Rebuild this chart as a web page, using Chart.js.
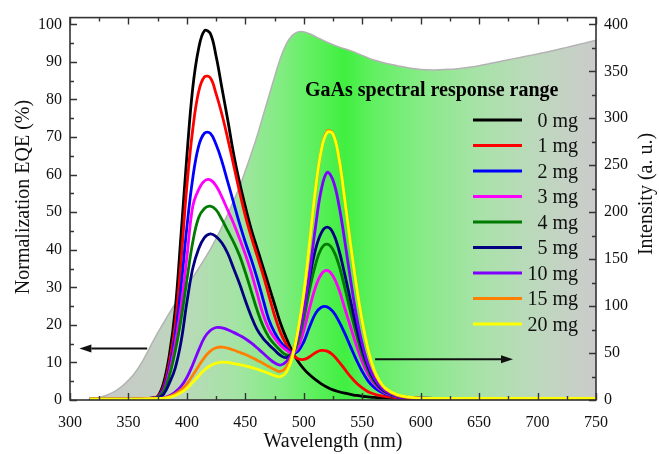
<!DOCTYPE html>
<html>
<head>
<meta charset="utf-8">
<title>Normalization EQE vs wavelength</title>
<script src="https://cdn.jsdelivr.net/npm/chart.js@4.4.0/dist/chart.umd.min.js"></script>
<style>
    html, body { margin: 0; padding: 0; background: #fff; }
    #wrap { position: relative; width: 659px; height: 454px; }
</style>
</head>
<body>
<div id="wrap"><canvas id="eqeCanvas"></canvas></div>
<script>
// Wavelength grid for the EQE curves (nm)
const wavelength = [317, 340, 360, 370, 375, 380, 385, 390, 395, 400, 405, 410, 415, 420, 425, 430, 435, 440, 445, 450,
    455, 460, 465, 470, 475, 480, 485, 490, 495, 500, 505, 510, 515, 520, 525, 530, 535, 540, 545, 550,
    555, 560, 565, 570, 580, 590, 600, 650, 700, 750];

// Normalization EQE (%) per sample
const eqe0mg = [0.3, 0.3, 0.3, 0.5, 1.0, 4.5, 12, 24, 44, 65, 83, 93.5, 98.3, 97.6, 91.5, 83, 74.5, 65.5, 58, 51.5,
    45.5, 40.5, 35.5, 30.5, 25.5, 20.5, 16.5, 13, 10.3, 8.3, 6.7, 5.4, 4.3, 3.4, 2.7, 2.2, 1.8, 1.5, 1.2, 1.0,
    0.85, 0.7, 0.6, 0.55, 0.45, 0.4, 0.35, 0.3, 0.3, 0.3];
const eqe1mg = [0.3, 0.3, 0.3, 0.5, 0.9, 3.5, 10, 20, 37, 57, 72, 82, 86, 85.8, 81.5, 76, 69.5, 62.5, 55.5, 49,
    43.5, 38.5, 33.5, 28, 22.5, 18, 14.8, 12.3, 11, 10.8, 11.5, 12.6, 13.2, 13.0, 12, 10.2, 8.2, 6.2, 4.5, 3.2,
    2.2, 1.6, 1.2, 0.9, 0.6, 0.45, 0.4, 0.3, 0.3, 0.3];
const eqe2mg = [0.3, 0.3, 0.3, 0.5, 0.8, 3, 8.5, 17, 30, 46, 59, 67.5, 71, 71, 68, 63.5, 58, 52.5, 47, 42,
    37.5, 32.5, 27, 21.5, 18, 15.5, 13.8, 12.5, 13, 15.5, 19.5, 23, 24.7, 24.8, 23.5, 21, 17.8, 14.2, 10.7, 7.6,
    5.1, 3.4, 2.3, 1.6, 0.8, 0.55, 0.45, 0.3, 0.3, 0.3];
const eqe3mg = [0.3, 0.3, 0.3, 0.5, 0.7, 2.5, 7.5, 15, 25, 38, 51.5, 56, 58.3, 58.6, 57, 54, 50.5, 47, 43, 38.8,
    34, 28.5, 23, 19, 16.5, 14.6, 13.3, 12.4, 14, 18.5, 24.5, 30, 33.5, 34.5, 33, 29.5, 24.5, 19.5, 14.5, 10.2,
    6.8, 4.4, 2.9, 1.9, 0.9, 0.6, 0.45, 0.3, 0.3, 0.3];
const eqe4mg = [0.3, 0.3, 0.3, 0.45, 0.7, 2.2, 6.5, 13, 21.5, 32, 42, 48.5, 51, 51.6, 50.6, 48, 45, 42, 38.5, 34,
    29, 24, 19.8, 16.8, 14.8, 13.2, 12, 12.2, 15.5, 21.5, 29.5, 36, 40.3, 41.5, 40, 36, 30, 23.5, 17.5, 12,
    8, 5, 3.2, 2.1, 1.0, 0.7, 0.5, 0.3, 0.3, 0.3];
const eqe5mg = [0.3, 0.3, 0.3, 0.4, 0.6, 1.5, 4.5, 8.5, 15.5, 26, 35, 40.2, 43.2, 44.2, 43.5, 41.8, 39, 35, 31, 26.5,
    22.3, 18.8, 16.5, 14.8, 13.3, 11.9, 11.3, 12.5, 17, 24, 32.5, 40, 44.5, 46, 44.5, 40, 33.5, 26.5, 19.5, 13.5,
    8.8, 5.5, 3.4, 2.2, 1.0, 0.7, 0.5, 0.3, 0.3, 0.3];
const eqe10mg = [0.3, 0.3, 0.3, 0.35, 0.45, 0.6, 1.1, 2.1, 3.6, 6, 9.4, 13.2, 16.6, 18.5, 19.3, 19.2, 18.7, 18, 17.2, 16.3,
    15.2, 13.9, 12.5, 11.1, 9.9, 9.3, 10.2, 12.5, 16.5, 23.5, 34, 46, 56, 60.6, 58.5, 52, 42.5, 32, 22.5, 15,
    9.5, 6, 3.8, 2.4, 1.1, 0.7, 0.5, 0.3, 0.3, 0.3];
const eqe15mg = [0.3, 0.3, 0.3, 0.35, 0.4, 0.5, 0.9, 1.6, 2.7, 4.3, 6.6, 9, 11.3, 13, 13.9, 14.1, 13.8, 13.3, 12.7, 12.1,
    11.4, 10.6, 9.8, 8.9, 8.1, 7.6, 8.7, 12, 18.5, 28, 41.5, 55.5, 66.5, 71.6, 71, 64.5, 53.5, 41.5, 30.3, 20.8,
    13.2, 7.8, 4.7, 2.9, 1.2, 0.7, 0.5, 0.4, 0.4, 0.4];
const eqe20mg = [0.3, 0.3, 0.3, 0.35, 0.4, 0.45, 0.7, 1.2, 2, 3.1, 4.7, 6.4, 8, 9.1, 9.8, 10.1, 10, 9.7, 9.4, 9.1,
    8.7, 8.2, 7.7, 7.1, 6.5, 6.2, 7.4, 11.2, 18.5, 28.5, 42, 56, 66.5, 71.2, 70.8, 64.5, 53.5, 41.5, 30.5, 21,
    13.5, 8.2, 5, 3.1, 1.4, 0.8, 0.5, 0.45, 0.45, 0.45];

const seriesLabels = ['0 mg', '1 mg', '2 mg', '3 mg', '4 mg', '5 mg', '10 mg', '15 mg', '20 mg'];
const seriesValues = [eqe0mg, eqe1mg, eqe2mg, eqe3mg, eqe4mg, eqe5mg, eqe10mg, eqe15mg, eqe20mg];
const seriesColors = ['#000000', '#ff0000', '#0000ff', '#ff00ff', '#007a00', '#000080', '#7f00ff', '#ff8000', '#ffff00'];

// GaAs spectral response (right axis, a. u.)
const spectrumWavelength = [315, 320, 325, 330, 335, 340, 345, 350, 355, 360, 365, 370, 375, 380, 385, 390, 395, 400, 405, 410,
    415, 420, 425, 430, 435, 440, 445, 450, 455, 460, 465, 470, 475, 480, 485, 490, 495, 500, 505, 510,
    520, 530, 540, 550, 560, 570, 580, 590, 600, 610, 620, 630, 640, 650, 660, 670, 680, 690, 700, 710,
    720, 730, 740, 750];
const spectrumIntensity = [0, 1, 2.5, 4.5, 7, 10.5, 15, 21, 28, 37, 48, 60, 71.5, 82, 92.5, 102.5, 112, 121, 130.5, 140,
    150, 160.5, 172, 184.5, 198, 212, 227, 244, 262, 281, 302, 323, 344, 364, 379, 388, 392, 392, 390, 387,
    381, 376, 372, 367, 362, 358.5, 356, 353.5, 352, 351.5, 352, 352.5, 354, 356, 358.5, 361, 363.5, 366, 368.5, 371,
    374, 377, 380, 383];

// Axis ticks
const xTickValues = [300, 350, 400, 450, 500, 550, 600, 650, 700, 750];
const yTickValues = [0, 10, 20, 30, 40, 50, 60, 70, 80, 90, 100];
const y1TickValues = [0, 50, 100, 150, 200, 250, 300, 350, 400];

// Gradient of the response band, left grey -> green -> right grey
const fillStops = [
    [315, '#c8c8c8'], [370, '#c3cfc3'], [400, '#b8dab8'], [440, '#a6e3a6'], [480, '#82ec82'],
    [510, '#5cf05c'], [535, '#40ef40'], [560, '#62f062'], [600, '#86eb86'], [650, '#a8e2a8'],
    [700, '#bdd8bd'], [750, '#cbcbcb']
];

const SERIF = '"Liberation Serif", "Times New Roman", serif';
Chart.defaults.font.family = SERIF;
Chart.defaults.color = '#111';

function spectrumGradient(context) {
    const chart = context.chart;
    const { ctx, chartArea, scales } = chart;
    if (!chartArea) return '#9e9';
    const first = fillStops[0][0];
    const last = fillStops[fillStops.length - 1][0];
    const x0 = scales.x.getPixelForValue(first);
    const x1 = scales.x.getPixelForValue(last);
    const g = ctx.createLinearGradient(x0, 0, x1, 0);
    fillStops.forEach(([nm, color]) => {
        g.addColorStop((nm - first) / (last - first), color);
    });
    return g;
}

// Frame, inward ticks, arrows, legend and labels
const decorPlugin = {
    id: 'decor',
    afterDatasetsDraw(chart) {
        const { ctx, chartArea: a, scales } = chart;
        const x = scales.x, y = scales.y, y1 = scales.y1;

        ctx.save();
        ctx.strokeStyle = '#333';
        ctx.lineWidth = 1.6;
        ctx.strokeRect(a.left, a.top, a.right - a.left, a.bottom - a.top);

        ctx.lineWidth = 1.4;
        ctx.beginPath();
        for (let v = 300; v <= 750; v += 25) {
            const px = Math.round(x.getPixelForValue(v)) + 0.5;
            const len = v % 50 === 0 ? 7 : 4;
            ctx.moveTo(px, a.bottom); ctx.lineTo(px, a.bottom - len);
            ctx.moveTo(px, a.top); ctx.lineTo(px, a.top + len);
        }
        for (let v = 0; v <= 100; v += 5) {
            const py = Math.round(y.getPixelForValue(v)) + 0.5;
            const len = v % 10 === 0 ? 7 : 4;
            ctx.moveTo(a.left, py); ctx.lineTo(a.left + len, py);
        }
        for (let v = 0; v <= 400; v += 25) {
            const py = Math.round(y1.getPixelForValue(v)) + 0.5;
            const len = v % 50 === 0 ? 7 : 4;
            ctx.moveTo(a.right, py); ctx.lineTo(a.right - len, py);
        }
        ctx.stroke();

        // arrows pointing to each axis
        drawArrow(ctx, x.getPixelForValue(366), y.getPixelForValue(13.7), x.getPixelForValue(308), y.getPixelForValue(13.7));
        drawArrow(ctx, x.getPixelForValue(561), y1.getPixelForValue(43.5), x.getPixelForValue(679), y1.getPixelForValue(43.5));

        // band label
        ctx.fillStyle = '#000';
        ctx.font = 'bold 20px ' + SERIF;
        ctx.textAlign = 'left';
        ctx.textBaseline = 'alphabetic';
        ctx.fillText('GaAs spectral response range', x.getPixelForValue(501), y.getPixelForValue(81));

        // legend
        ctx.font = '20px ' + SERIF;
        ctx.textAlign = 'right';
        ctx.textBaseline = 'middle';
        seriesLabels.forEach((label, i) => {
            const ly = 120 + i * 25.5;
            ctx.strokeStyle = seriesColors[i];
            ctx.lineWidth = 3;
            ctx.beginPath();
            ctx.moveTo(473, ly); ctx.lineTo(522, ly);
            ctx.stroke();
            ctx.fillStyle = '#111';
            ctx.fillText(label, 578, ly + 1.5);
        });

        // vertical axis titles
        ctx.textAlign = 'center';
        ctx.fillStyle = '#111';
        ctx.save();
        ctx.translate(24, 197);
        ctx.rotate(-Math.PI / 2);
        ctx.fillText('Normalization EQE (%)', 0, 0);
        ctx.restore();
        ctx.save();
        ctx.translate(647, 194);
        ctx.rotate(-Math.PI / 2);
        ctx.fillText('Intensity (a. u.)', 0, 0);
        ctx.restore();

        ctx.restore();
    }
};

function drawArrow(ctx, x0, y0, x1, y1) {
    const ang = Math.atan2(y1 - y0, x1 - x0);
    const head = 12, half = 4;
    ctx.save();
    ctx.strokeStyle = '#111';
    ctx.fillStyle = '#111';
    ctx.lineWidth = 2;
    ctx.beginPath();
    ctx.moveTo(x0, y0);
    ctx.lineTo(x1 - Math.cos(ang) * head, y1 - Math.sin(ang) * head);
    ctx.stroke();
    ctx.beginPath();
    ctx.moveTo(x1, y1);
    ctx.lineTo(x1 - Math.cos(ang) * head - Math.sin(ang) * half, y1 - Math.sin(ang) * head + Math.cos(ang) * half);
    ctx.lineTo(x1 - Math.cos(ang) * head + Math.sin(ang) * half, y1 - Math.sin(ang) * head - Math.cos(ang) * half);
    ctx.closePath();
    ctx.fill();
    ctx.restore();
}

function toPoints(xs, ys) {
    return xs.map((v, i) => ({ x: v, y: ys[i] }));
}

const lineDatasets = seriesValues.map((values, i) => ({
    label: seriesLabels[i],
    data: toPoints(wavelength, values),
    yAxisID: 'y',
    borderColor: seriesColors[i],
    borderWidth: 2.8,
    pointRadius: 0,
    fill: false,
    tension: 0.4,
    order: seriesValues.length - i
}));

const spectrumDataset = {
    label: 'GaAs spectral response',
    data: toPoints(spectrumWavelength, spectrumIntensity),
    yAxisID: 'y1',
    borderColor: '#b3b3b3',
    borderWidth: 1.5,
    backgroundColor: spectrumGradient,
    pointRadius: 0,
    fill: 'origin',
    tension: 0.4,
    order: 100
};

const tickFont = { size: 16, family: SERIF };
const noGrid = { display: false, drawTicks: false };

new Chart(document.getElementById('eqeCanvas'), {
    type: 'line',
    data: { datasets: [spectrumDataset, ...lineDatasets] },
    options: {
        responsive: true,
        maintainAspectRatio: false,
        animation: false,
        devicePixelRatio: 1,
        layout: { padding: { top: 13, left: 0, right: 0, bottom: 0 } },
        plugins: {
            legend: { display: false },
            tooltip: { enabled: false }
        },
        scales: {
            x: {
                type: 'linear',
                position: 'bottom',
                min: 300,
                max: 750,
                afterBuildTicks: scale => { scale.ticks = xTickValues.map(v => ({ value: v })); },
                afterFit: scale => { scale.height = 54; },
                grid: noGrid,
                border: { display: false },
                ticks: { font: tickFont, padding: 13, autoSkip: false, maxRotation: 0 },
                title: {
                    display: true,
                    text: 'Wavelength (nm)',
                    font: { size: 20, family: SERIF },
                    padding: { top: 0, bottom: 0 }
                }
            },
            y: {
                position: 'left',
                min: 0,
                max: 101.8,
                afterBuildTicks: scale => { scale.ticks = yTickValues.map(v => ({ value: v })); },
                afterFit: scale => { scale.width = 70; },
                grid: noGrid,
                border: { display: false },
                ticks: { font: tickFont, padding: 8 }
            },
            y1: {
                position: 'right',
                min: 0,
                max: 407.2,
                afterBuildTicks: scale => { scale.ticks = y1TickValues.map(v => ({ value: v })); },
                afterFit: scale => { scale.width = 63; },
                grid: noGrid,
                border: { display: false },
                ticks: { font: tickFont, padding: 8 }
            }
        }
    },
    plugins: [decorPlugin]
});
</script>
</body>
</html>
